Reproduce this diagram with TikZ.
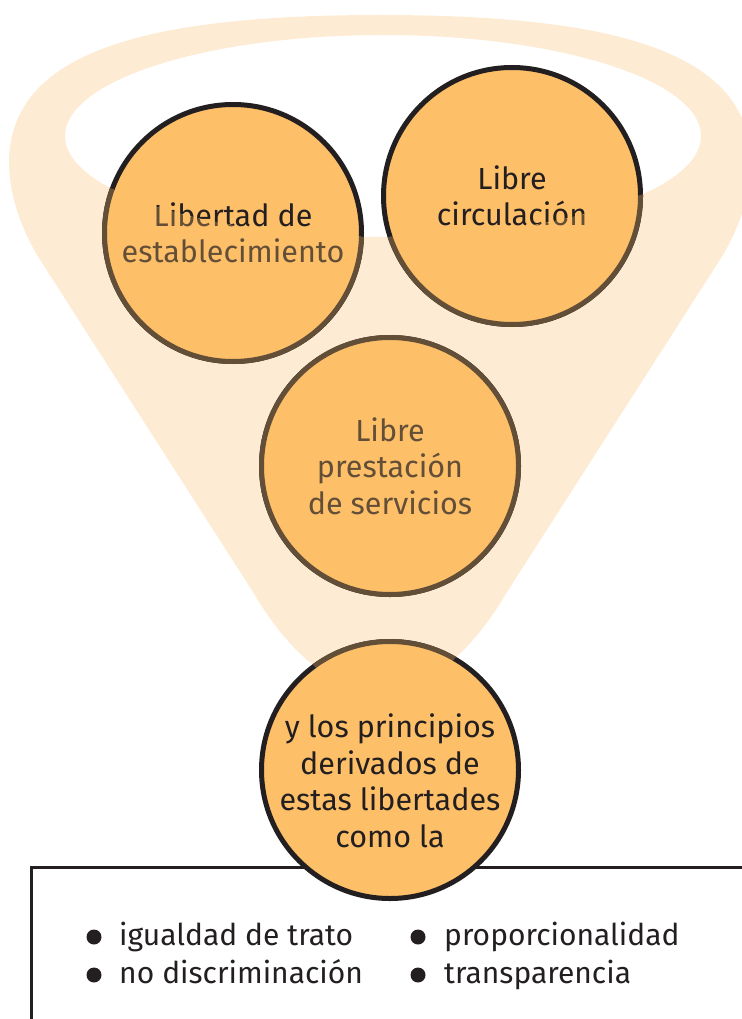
\documentclass[tikz,border=0pt]{standalone}
\usepackage{fontspec}
\setmainfont{Fira Sans}
\definecolor{naranja}{HTML}{FDBF68}
\definecolor{crema}{HTML}{FDEBD3}
\definecolor{tinta}{HTML}{231F20}
\definecolor{marron}{HTML}{634E38}
\tikzset{
  bola/.style={circle, minimum size=257pt, inner sep=0pt, fill=naranja, draw=tinta, line width=5pt},
  rotulo/.style={align=center, text=tinta, font=\fontsize{30.5}{36.5}\selectfont},
  punto/.style={circle, fill=tinta, minimum size=15pt, inner sep=0pt},
  vineta/.style={anchor=base west, inner sep=0pt, text=tinta, font=\fontsize{30}{34}\selectfont},
}
% contorno del embudo, con el hueco de arriba
\newcommand{\formaembudo}{(37,255) -- (253,592) .. controls (287,650) and (330,690) .. (380,690)
  .. controls (430,690) and (473,650) .. (507,592) -- (723,255)
  .. controls (740,225) and (751,195) .. (751,160) .. controls (748,50) and (610,15) .. (380,15)
  .. controls (150,15) and (12,50) .. (9,160) .. controls (9,195) and (20,225) .. (37,255) -- cycle
  (383,136) ellipse [x radius=318, y radius=101]}
% nombre/x/y/desplazamiento/texto
\newcommand{\bolas}{lib/233/233/0/{Libertad de\\establecimiento},
  circ/512/196/0/{Libre\\circulación},
  serv/390/466/0/{Libre\\prestación\\de servicios},
  prin/390/770/11/{y los principios\\derivados de\\estas libertades\\como la}}

\begin{document}
\begin{tikzpicture}[x=1pt, y=-1pt]
\useasboundingbox (0,0) rectangle (741,1019);

% Embudo
\fill[crema, even odd rule] \formaembudo;

% Recuadro de abajo
\draw[tinta, line width=3pt] (31,1030) -- (31,867) -- (760,867);

% Círculos con borde oscuro
\foreach \nom/\cx/\cy/\dy/\txt in \bolas {
  \node[bola] (\nom) at (\cx,\cy) {};
  \node[rotulo] (\nom-t) at ([yshift=-\dy pt]\nom.center) {\txt};
}

% Dentro del embudo el borde y el texto se ven marrones
\begin{scope}[even odd rule]
  \clip \formaembudo;
  \foreach \nom/\cx/\cy/\dy/\txt in \bolas {
    \node[bola, draw=marron] (\nom-m) at (\cx,\cy) {};
    \node[rotulo, text=marron] (\nom-mt) at ([yshift=-\dy pt]\nom-m.center) {\txt};
  }
\end{scope}

% Lista de principios
\node[punto] (p1) at (94,937) {};
\node[punto] (p2) at (94,975) {};
\node[punto] (p3) at (418,937) {};
\node[punto] (p4) at (418,975) {};
\node[vineta] (v1) at (119,945) {igualdad de trato};
\node[vineta] (v2) at (119,983) {no discriminación};
\node[vineta] (v3) at (444,945) {proporcionalidad};
\node[vineta] (v4) at (444,983) {transparencia};
\end{tikzpicture}
\end{document}
